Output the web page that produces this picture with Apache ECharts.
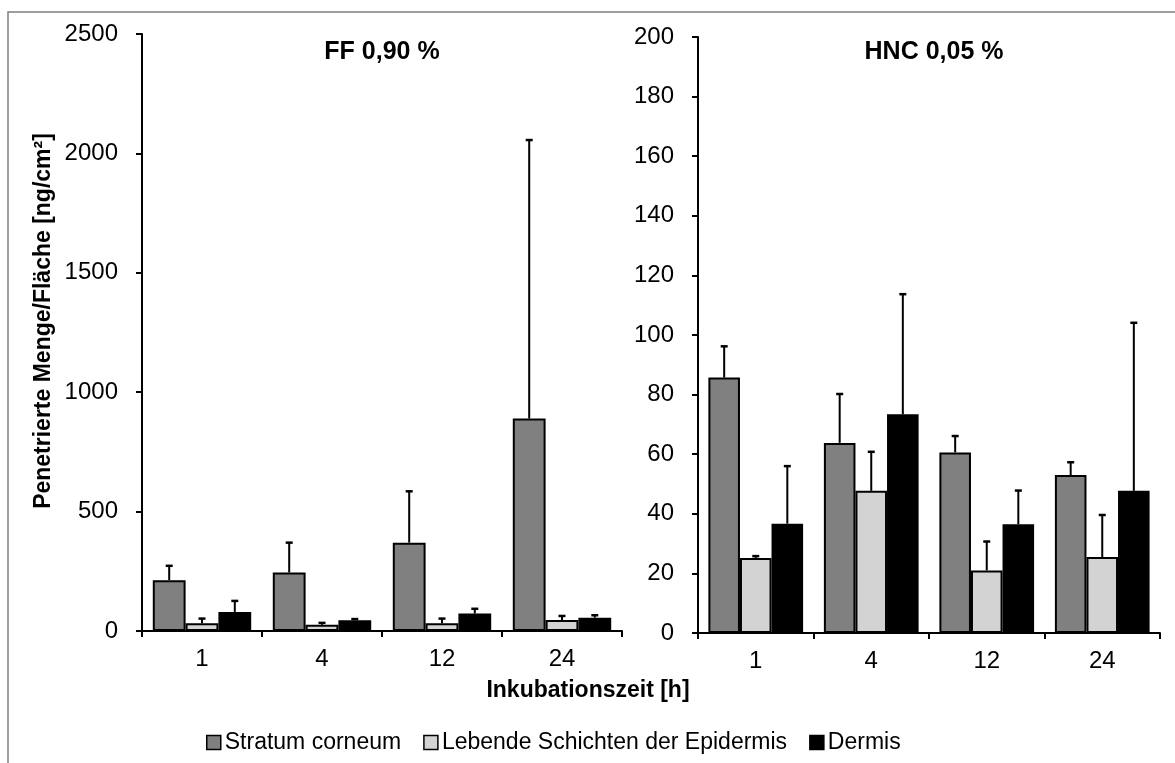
<!DOCTYPE html>
<html>
<head>
<meta charset="utf-8">
<script src="https://cdn.jsdelivr.net/npm/echarts@6/dist/echarts.min.js"></script>
<style>
html,body{margin:0;padding:0;background:#fff;}
#chart{width:1175px;height:763px;}
</style>
</head>
<body>
<div id="chart"></div>
<script>
// ---- data ----
const categories = ['1', '4', '12', '24'];
const seriesNames = ['Stratum corneum', 'Lebende Schichten der Epidermis', 'Dermis'];

const ffSC = [213, 245, 370, 890];
const ffSCErr = [60, 125, 215, 1166];
const ffLS = [32, 26, 32, 46];
const ffLSErr = [20, 8, 20, 17];
const ffDE = [80, 45, 73, 56];
const ffDEErr = [46, 5, 20, 10];

const hncSC = [85.7, 63.8, 60.6, 53.0];
const hncSCErr = [10.5, 16.4, 5.5, 4.3];
const hncLS = [25.2, 47.7, 21.0, 25.5];
const hncLSErr = [0.6, 13.1, 9.7, 14.1];
const hncDE = [36.7, 73.4, 36.5, 47.7];
const hncDEErr = [19.3, 40.3, 11.3, 56.4];

const ffTicks = {min: 0, max: 2500, interval: 500};
const hncTicks = {min: 0, max: 200, interval: 20};

// ---- style ----
const colors = ['#808080', '#d3d3d3', '#000000'];
const FONT = '"Liberation Sans", Arial, sans-serif';
const GAP = 0.18;

const chart = echarts.init(document.getElementById('chart'), null, {renderer: 'canvas'});

function errRender(idx) {
  return function (params, api) {
    const ci = api.value(0), v = api.value(1), e = api.value(2);
    const base = api.coord([ci, v]);
    const top = api.coord([ci, v + e]);
    const band = api.size([1, 0])[0];
    const bw = band * (1 - GAP) / 3;
    const x = base[0] + (idx - 1) * bw;
    const st = {stroke: '#000', lineWidth: 2};
    return {
      type: 'group',
      children: [
        {type: 'line', shape: {x1: x, y1: base[1], x2: x, y2: top[1]}, style: st},
        {type: 'line', shape: {x1: x - 3.5, y1: top[1], x2: x + 3.5, y2: top[1]}, style: {stroke: '#000', lineWidth: 2.5}}
      ]
    };
  };
}

function barSeries(name, data, axisIdx, colorIdx) {
  return {
    name: name, type: 'bar', xAxisIndex: axisIdx, yAxisIndex: axisIdx,
    data: data, barGap: '0%', barCategoryGap: (GAP * 100) + '%',
    itemStyle: {color: colors[colorIdx], borderColor: '#000', borderWidth: 2},
    emphasis: {disabled: true}, animation: false
  };
}
function errSeries(vals, errs, axisIdx, idx) {
  return {
    type: 'custom', xAxisIndex: axisIdx, yAxisIndex: axisIdx,
    data: vals.map((v, i) => [i, v, errs[i]]),
    encode: {x: 0, y: 1},
    renderItem: errRender(idx), z: 5, animation: false, silent: true
  };
}

const axisLine = {show: true, lineStyle: {color: '#000', width: 2}};
const xAxisBase = {
  type: 'category', data: categories,
  axisLine: axisLine,
  axisTick: {show: true, length: 6, lineStyle: {color: '#000', width: 2}},
  axisLabel: {color: '#000', fontSize: 24, fontFamily: FONT, margin: 16},
  splitLine: {show: false}
};
const yAxisBase = {
  type: 'value',
  axisLine: axisLine,
  axisTick: {show: true, length: 6, lineStyle: {color: '#000', width: 2}},
  axisLabel: {color: '#000', fontSize: 24, fontFamily: FONT, margin: 24,
              formatter: function (v) { return String(v); }},
  splitLine: {show: false}
};

const option = {
  backgroundColor: '#fff',
  animation: false,
  grid: [
    {left: 142, right: 553, top: 34, bottom: 132},
    {left: 698, right: 15, top: 37, bottom: 130}
  ],
  xAxis: [
    Object.assign({gridIndex: 0}, xAxisBase),
    Object.assign({gridIndex: 1}, xAxisBase)
  ],
  yAxis: [
    Object.assign({gridIndex: 0}, yAxisBase, ffTicks),
    Object.assign({gridIndex: 1}, yAxisBase, hncTicks)
  ],
  legend: {
    data: seriesNames,
    left: 201, top: 726,
    itemWidth: 14, itemHeight: 14, itemGap: 22,
    icon: 'rect',
    textStyle: {color: '#000', fontSize: 23, fontFamily: FONT, padding: [0, 0, 0, -1]},
    itemStyle: {borderColor: '#000', borderWidth: 1.5},
    selectedMode: false
  },
  graphic: [
    {type: 'rect', shape: {x: 8, y: 12, width: 1300, height: 900},
     style: {fill: 'none', stroke: '#7f7f7f', lineWidth: 1.5}, silent: true},
    {type: 'text', x: 382, y: 52,
     style: {text: 'FF 0,90 %', font: 'bold 25px ' + FONT, fill: '#000', textAlign: 'center', textVerticalAlign: 'middle'}},
    {type: 'text', x: 934, y: 52,
     style: {text: 'HNC 0,05 %', font: 'bold 25px ' + FONT, fill: '#000', textAlign: 'center', textVerticalAlign: 'middle'}},
    {type: 'text', x: 588, y: 691,
     style: {text: 'Inkubationszeit [h]', font: 'bold 23px ' + FONT, fill: '#000', textAlign: 'center', textVerticalAlign: 'middle'}},
    {type: 'text', x: 44, y: 321, rotation: Math.PI / 2,
     style: {text: 'Penetrierte Menge/Fläche [ng/cm²]', font: 'bold 23px ' + FONT, fill: '#000', textAlign: 'center', textVerticalAlign: 'middle'}}
  ],
  series: [
    barSeries(seriesNames[0], ffSC, 0, 0),
    barSeries(seriesNames[1], ffLS, 0, 1),
    barSeries(seriesNames[2], ffDE, 0, 2),
    barSeries(seriesNames[0], hncSC, 1, 0),
    barSeries(seriesNames[1], hncLS, 1, 1),
    barSeries(seriesNames[2], hncDE, 1, 2),
    errSeries(ffSC, ffSCErr, 0, 0),
    errSeries(ffLS, ffLSErr, 0, 1),
    errSeries(ffDE, ffDEErr, 0, 2),
    errSeries(hncSC, hncSCErr, 1, 0),
    errSeries(hncLS, hncLSErr, 1, 1),
    errSeries(hncDE, hncDEErr, 1, 2)
  ]
};
chart.setOption(option);
</script>
</body>
</html>
